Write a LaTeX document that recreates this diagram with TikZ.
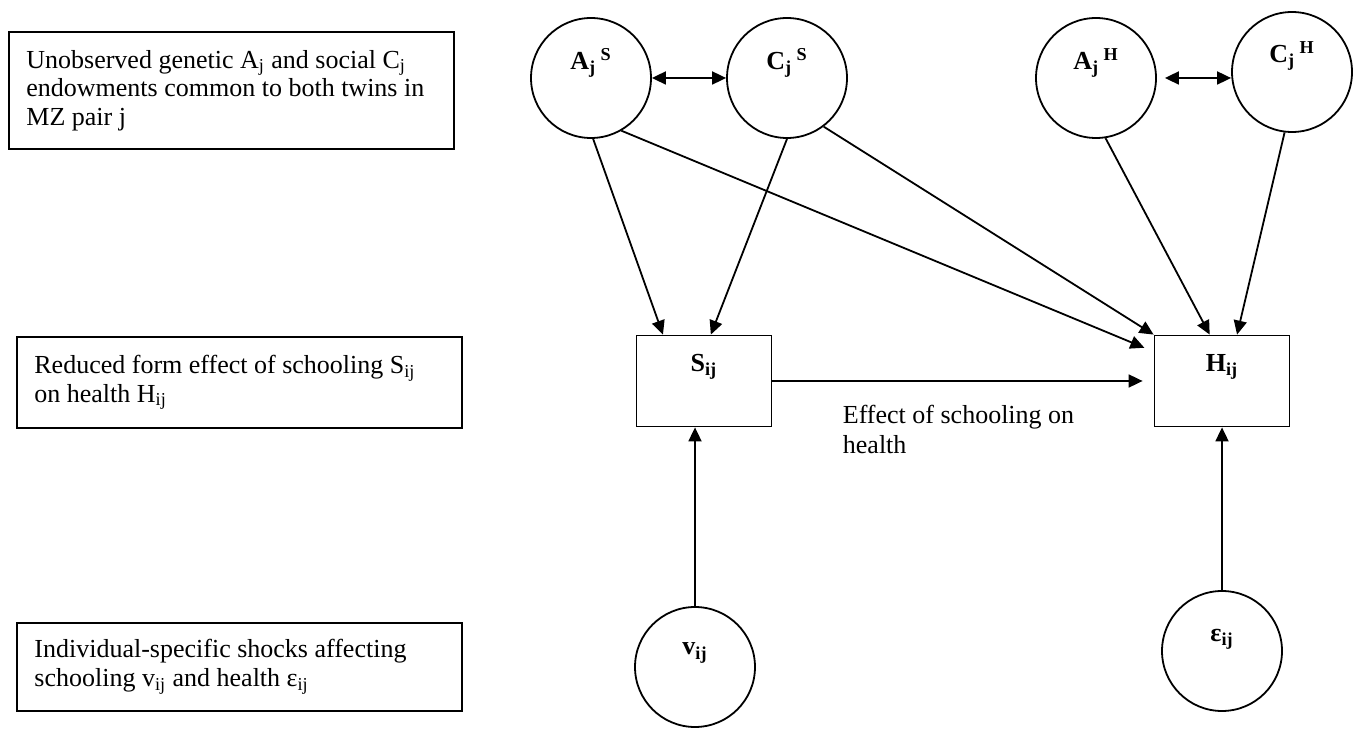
\documentclass[tikz,border=0pt]{standalone}
\usepackage{fontspec}
\setmainfont{Liberation Serif}
\usetikzlibrary{arrows.meta,calc}

\begin{document}
\begin{tikzpicture}[x=0.5pt,y=-0.5pt,
    font=\fontsize{13}{14.3}\selectfont,
    line width=0.9pt,
    >={Triangle[length=7pt,width=6.5pt]},
    latent/.style={draw,circle,minimum size=60pt,inner sep=0pt},
    var/.style={draw,rectangle,minimum width=67.5pt,minimum height=45.5pt,inner sep=0pt},
    note/.style={draw,rectangle,align=flush left,inner xsep=8.75pt,text width=205pt,anchor=north west},
    lbl/.style={font=\fontsize{13}{14.3}\selectfont\bfseries}]
    \useasboundingbox (0,0) rectangle (1359,731);
    \node[note,minimum height=58.5pt] (note1) at (8,31)
        {Unobserved genetic A\textsubscript{j} and social C\textsubscript{j}\\
         endowments common to both twins in\\
         MZ pair j};
    \node[note,minimum height=45.5pt] (note2) at (16,336)
        {Reduced form effect of schooling S\textsubscript{ij}\\
         on health H\textsubscript{ij}};
    \node[note,minimum height=44pt] (note3) at (16,622)
        {Individual-specific shocks affecting\\
         schooling v\textsubscript{ij} and health ε\textsubscript{ij}};
    \node[latent] (AS) at (591,78) {};
    \node[latent] (CS) at (787,78) {};
    \node[latent] (AH) at (1096,78) {};
    \node[latent] (CH) at (1292,72) {};
    \node[var] (S) at (704,381) {};
    \node[var] (H) at (1222,381) {};
    \node[latent] (v) at (695,667) {};
    \node[latent] (eps) at (1222,651) {};
    \node[lbl] (AS-txt) at ($(AS)+(0,-15)$) {A\textsubscript{j}\,\textsuperscript{S}};
    \node[lbl] (CS-txt) at ($(CS)+(0,-15)$) {C\textsubscript{j}\,\textsuperscript{S}};
    \node[lbl] (AH-txt) at ($(AH)+(0,-15)$) {A\textsubscript{j}\,\textsuperscript{H}};
    \node[lbl] (CH-txt) at ($(CH)+(0,-16)$) {C\textsubscript{j}\,\textsuperscript{H}};
    \node[lbl] (S-txt) at ($(S)+(0,-14)$) {S\textsubscript{ij}};
    \node[lbl] (H-txt) at ($(H)+(0,-14)$) {H\textsubscript{ij}};
    \node[lbl] (v-txt) at ($(v)+(0,-14)$) {v\textsubscript{ij}};
    \node[lbl] (eps-txt) at ($(eps)+(0,-12)$) {ε\textsubscript{ij}};
    \node[anchor=north west,align=left,inner sep=0pt,font=\fontsize{13}{15}\selectfont] (effect)
        at (842,404) {Effect of schooling on\\health};
    \draw[<->] (AS) -- (CS);
    \draw[<->,shorten <=4pt] (AH.east) -- (AH.east -| CH.west);
    \draw[->] (AS.-88) -- ($(S.north west)!0.2!(S.north east)$);
    \draw[->] (CS.-90) -- ($(S.north west)!0.55!(S.north east)$);
    \draw[->,shorten >=5pt] (AS.-60) -- ($(H.north west)+(0,17)$);
    \draw[->] (CS.-53) -- (H.north west);
    \draw[->] (AH.-81) -- ($(H.north west)!0.41!(H.north east)$);
    \draw[->] (CH.-97) -- ($(H.north west)!0.61!(H.north east)$);
    \draw[->,shorten >=5.5pt] (S) -- (H);
    \draw[->] (v.north) -- (v.north |- S.south);
    \draw[->] (eps.north) -- (eps.north |- H.south);
\end{tikzpicture}
\end{document}
